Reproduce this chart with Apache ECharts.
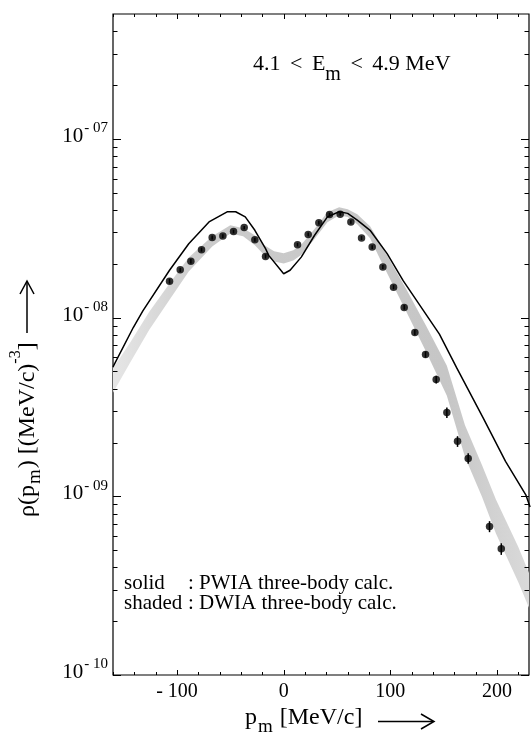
<!DOCTYPE html>
<html>
<head>
<meta charset="utf-8">
<script src="https://cdn.jsdelivr.net/npm/echarts@6/dist/echarts.min.js"></script>
<style>
  html, body { margin: 0; padding: 0; background: #fff; }
  #chart { width: 532px; height: 732px; }
</style>
</head>
<body>
<div id="chart"></div>
<script>
// measured momentum distribution (filled circles with error bars)
const pointX = [-107, -97, -87, -77, -67, -57, -47, -37, -27, -17,
  13, 23, 33, 43, 53, 63, 73, 83, 93, 103, 113, 123, 133, 143, 153, 163, 173, 193, 204];
const pointY = [1.60e-8, 1.85e-8, 2.07e-8, 2.40e-8, 2.81e-8, 2.86e-8, 3.03e-8, 3.19e-8, 2.73e-8, 2.20e-8,
  2.56e-8, 2.92e-8, 3.40e-8, 3.78e-8, 3.79e-8, 3.43e-8, 2.79e-8, 2.48e-8, 1.92e-8, 1.48e-8,
  1.14e-8, 8.26e-9, 6.22e-9, 4.50e-9, 2.94e-9, 2.03e-9, 1.63e-9, 6.78e-10, 5.08e-10];
const pointErr = [0.05e-8, 0.05e-8, 0.06e-8, 0.06e-8, 0.07e-8, 0.07e-8, 0.07e-8, 0.07e-8, 0.07e-8, 0.06e-8,
  0.06e-8, 0.07e-8, 0.08e-8, 0.08e-8, 0.08e-8, 0.08e-8, 0.07e-8, 0.06e-8, 0.05e-8, 0.04e-8,
  0.035e-8, 0.3e-9, 0.25e-9, 0.22e-9, 0.2e-9, 0.14e-9, 0.11e-9, 0.48e-10, 0.38e-10];

// solid : PWIA three-body calc.
const pwiaX = [-160, -141, -132, -107, -89, -70, -53, -45, -36, -27, -17, -14, 0, 6, 16.5, 29, 41, 52, 60, 69,
  81, 97, 112, 146, 162, 187, 208, 227, 231];
const pwiaY = [5.3e-9, 8.8e-9, 1.09e-8, 1.84e-8, 2.59e-8, 3.43e-8, 3.91e-8, 3.91e-8, 3.66e-8, 3.08e-8, 2.43e-8,
  2.23e-8, 1.76e-8, 1.84e-8, 2.18e-8, 2.89e-8, 3.66e-8, 3.91e-8, 3.83e-8, 3.51e-8,
  3.08e-8, 2.28e-8, 1.61e-8, 8.09e-9, 5.26e-9, 2.75e-9, 1.57e-9, 1.02e-9, 8.7e-10];

// shaded : DWIA three-body calc. (band edges)
const dwiaX = [-160, -144, -126, -107, -89, -67, -50, -38, -27, -18, -9, 0, 9, 16, 28, 41, 52, 60, 69, 81,
  90, 115, 134, 153, 170, 186, 199, 220, 231];
const dwiaHigh = [5.2e-9, 7.24e-9, 1.08e-8, 1.55e-8, 2.17e-8, 2.85e-8, 3.29e-8, 3.16e-8, 2.89e-8, 2.54e-8,
  2.35e-8, 2.29e-8, 2.38e-8, 2.54e-8, 3.08e-8, 3.89e-8, 4.15e-8, 4.04e-8, 3.79e-8, 3.24e-8,
  2.64e-8, 1.44e-8, 8.9e-9, 5.37e-9, 2.5e-9, 1.49e-9, 9.6e-10, 5.2e-10, 3.6e-10];
const dwiaLow = [3.8e-9, 5.59e-9, 8.56e-9, 1.26e-8, 1.81e-8, 2.5e-8, 2.96e-8, 2.85e-8, 2.54e-8, 2.23e-8,
  2.06e-8, 2.01e-8, 2.09e-8, 2.23e-8, 2.71e-8, 3.42e-8, 3.74e-8, 3.65e-8, 3.33e-8, 2.78e-8,
  2.15e-8, 1.08e-8, 6.36e-9, 3.65e-9, 1.66e-9, 9.9e-10, 6.2e-10, 3.3e-10, 2.3e-10];

// axes
const xTicks = [-160, -140, -120, -100, -80, -60, -40, -20, 0, 20, 40, 60, 80, 100, 120, 140, 160, 180, 200, 220];
const xLabelTicks = [-100, 0, 100, 200];
const yDecades = [1e-10, 1e-9, 1e-8, 1e-7];
const X_MIN = -160, X_MAX = 230, Y_MIN = 1e-10, Y_MAX = 5e-7;

const SERIF = '"Liberation Serif", "DejaVu Serif", serif';

const yTicks = [];
yDecades.forEach(function (d) {
  yTicks.push([X_MIN, d, 1]);
  for (let k = 2; k <= 9; k++) {
    const v = k * d;
    if (v < Y_MAX * 0.999) yTicks.push([X_MIN, v, 0]);
  }
});

const chart = echarts.init(document.getElementById('chart'));

function tickLine(x1, y1, x2, y2) {
  return { type: 'line', shape: { x1: x1, y1: y1, x2: x2, y2: y2 }, style: { stroke: '#000', lineWidth: 1 } };
}

const option = {
  backgroundColor: '#fff',
  animation: false,
  grid: {
    left: 113, top: 14, width: 421, height: 661,
    show: true, borderColor: '#000', borderWidth: 1.2, backgroundColor: 'transparent'
  },
  xAxis: {
    type: 'value', min: X_MIN, max: X_MAX, interval: 20,
    axisLine: { show: false }, axisTick: { show: false }, splitLine: { show: false },
    axisLabel: {
      margin: 7, color: '#000', fontFamily: SERIF, fontSize: 20,
      formatter: function (v) {
        if (xLabelTicks.indexOf(v) < 0) return '';
        return v < 0 ? '- ' + (-v) : String(v);
      }
    }
  },
  yAxis: {
    type: 'log', logBase: 10, min: Y_MIN, max: Y_MAX,
    axisLine: { show: false }, axisTick: { show: false }, splitLine: { show: false },
    axisLabel: {
      margin: 5, color: '#000', padding: [0, 0, 18, 0],
      formatter: function (v) {
        const e = Math.round(Math.log10(v));
        if (Math.abs(v / Math.pow(10, e) - 1) > 1e-6) return '';
        return '{b|10}{s|- ' + String(-e).padStart(2, '0') + '}';
      },
      rich: {
        b: { fontFamily: SERIF, fontSize: 21, lineHeight: 20, color: '#000', verticalAlign: 'top', padding: [6, 1, 0, 0] },
        s: { fontFamily: SERIF, fontSize: 15, lineHeight: 15, color: '#000', verticalAlign: 'top', padding: [1, 0, 0, 0] }
      }
    }
  },
  series: [
    {
      name: 'DWIA',
      type: 'custom',
      coordinateSystem: 'cartesian2d',
      clip: true,
      silent: true,
      z: 1,
      data: dwiaX.map(function (x, i) { return [x, dwiaLow[i], dwiaHigh[i]]; }),
      encode: { x: 0, y: [1, 2] },
      renderItem: function (params, api) {
        if (params.dataIndex !== 0) return null;
        const pts = [];
        for (let i = 0; i < dwiaX.length; i++) pts.push(api.coord([dwiaX[i], dwiaHigh[i]]));
        for (let i = dwiaX.length - 1; i >= 0; i--) pts.push(api.coord([dwiaX[i], dwiaLow[i]]));
        return {
          type: 'polygon', shape: { points: pts },
          style: {
            fill: new echarts.graphic.LinearGradient(0, 0, 1, 0, [
              { offset: 0, color: '#e6e6e6' },
              { offset: 0.22, color: '#cbcbcb' },
              { offset: 0.8, color: '#c6c6c6' },
              { offset: 1, color: '#dadada' }
            ]),
            stroke: null
          }
        };
      }
    },
    {
      name: 'PWIA',
      type: 'line',
      z: 3,
      symbol: 'none',
      lineStyle: { color: '#000', width: 1.5 },
      data: pwiaX.map(function (x, i) { return [x, pwiaY[i]]; })
    },
    {
      name: 'errors',
      type: 'custom',
      coordinateSystem: 'cartesian2d',
      silent: true,
      z: 4,
      data: pointX.map(function (x, i) { return [x, pointY[i], pointErr[i]]; }),
      encode: { x: 0, y: 1 },
      renderItem: function (params, api) {
        const x = api.value(0), y = api.value(1), e = api.value(2);
        const p1 = api.coord([x, y - e]);
        const p2 = api.coord([x, y + e]);
        return { type: 'line', shape: { x1: p1[0], y1: p1[1], x2: p2[0], y2: p2[1] }, style: { stroke: '#000', lineWidth: 1.5 } };
      }
    },
    {
      name: 'data',
      type: 'scatter',
      z: 5,
      symbol: 'circle',
      symbolSize: 7.5,
      itemStyle: { color: '#000' },
      data: pointX.map(function (x, i) { return [x, pointY[i]]; })
    },
    {
      name: 'xticks',
      type: 'custom',
      coordinateSystem: 'cartesian2d',
      silent: true,
      clip: false,
      z: 6,
      data: xTicks.map(function (v) { return [v, Y_MIN, xLabelTicks.indexOf(v) >= 0 ? 1 : 0]; }),
      encode: { x: 0, y: 1 },
      renderItem: function (params, api) {
        const cs = params.coordSys;
        const px = Math.round(api.coord([api.value(0), Y_MIN])[0]) + 0.5;
        const len = api.value(2) ? 5 : 3;
        const b = cs.y + cs.height;
        return { type: 'group', children: [tickLine(px, b, px, b - len), tickLine(px, cs.y, px, cs.y + len)] };
      }
    },
    {
      name: 'yticks',
      type: 'custom',
      coordinateSystem: 'cartesian2d',
      silent: true,
      clip: false,
      z: 6,
      data: yTicks,
      encode: { x: 0, y: 1 },
      renderItem: function (params, api) {
        const cs = params.coordSys;
        const py = Math.round(api.coord([X_MIN, api.value(1)])[1]) + 0.5;
        const len = api.value(2) ? 8 : 4.5;
        const r = cs.x + cs.width;
        return { type: 'group', children: [tickLine(cs.x, py, cs.x + len, py), tickLine(r - len, py, r, py)] };
      }
    }
  ],
  graphic: [
    {
      type: 'text', left: 253, top: 53, z: 10,
      style: {
        text: '{a|4.1 }{b|<}{a| E}{s|m}{a| }{b|<}{a| 4.9 MeV}',
        rich: {
          a: { fontFamily: SERIF, fontSize: 22, lineHeight: 22, fill: '#000', verticalAlign: 'top', padding: [0, 0, 10, 0] },
          b: { fontFamily: SERIF, fontSize: 22, lineHeight: 22, fill: '#000', verticalAlign: 'top', padding: [0, 4, 10, 4] },
          s: { fontFamily: SERIF, fontSize: 20, lineHeight: 20, fill: '#000', verticalAlign: 'top', padding: [12, 0, 0, 0] }
        }
      }
    },
    {
      type: 'text', x: 124, y: 583.5, z: 10,
      style: { text: 'solid', font: '21px ' + SERIF, fill: '#000', verticalAlign: 'middle' }
    },
    {
      type: 'text', x: 188, y: 583.5, z: 10,
      style: { text: ': PWIA three-body calc.', font: '21px ' + SERIF, fill: '#000', verticalAlign: 'middle' }
    },
    {
      type: 'text', x: 124, y: 603.5, z: 10,
      style: { text: 'shaded', font: '21px ' + SERIF, fill: '#000', verticalAlign: 'middle' }
    },
    {
      type: 'text', x: 188, y: 603.5, z: 10,
      style: { text: ': DWIA three-body calc.', font: '21px ' + SERIF, fill: '#000', verticalAlign: 'middle' }
    },
    {
      type: 'text', x: 245, y: 706, z: 10,
      style: {
        text: '{a|p}{s|m}{a| [MeV/c]}',
        rich: {
          a: { fontFamily: SERIF, fontSize: 24, lineHeight: 24, fill: '#000', verticalAlign: 'top', padding: [0, 0, 8, 0] },
          s: { fontFamily: SERIF, fontSize: 19, lineHeight: 20, fill: '#000', verticalAlign: 'top', padding: [12, 1, 0, 1] }
        }
      }
    },
    {
      type: 'group', z: 10,
      children: [
        { type: 'line', shape: { x1: 378, y1: 721.5, x2: 433, y2: 721.5 }, style: { stroke: '#000', lineWidth: 1.5 } },
        { type: 'polyline', shape: { points: [[421, 714], [434, 721.5], [421, 729]] }, style: { stroke: '#000', lineWidth: 1.5, fill: null } }
      ]
    },
    {
      type: 'text', x: 8, y: 517, rotation: Math.PI / 2, z: 10,
      style: {
        text: '{a|ρ(p}{s|m}{a|) [(MeV/c)}{u|-3}{a|]}',
        align: 'left',
        rich: {
          a: { fontFamily: SERIF, fontSize: 24, lineHeight: 24, fill: '#000', verticalAlign: 'top', padding: [8, 0, 6, 0] },
          s: { fontFamily: SERIF, fontSize: 19, lineHeight: 20, fill: '#000', verticalAlign: 'top', padding: [18, 1, 0, 1] },
          u: { fontFamily: SERIF, fontSize: 16, lineHeight: 16, fill: '#000', verticalAlign: 'top', padding: [0, 0, 22, 0] }
        }
      }
    },
    {
      type: 'group', z: 10,
      children: [
        { type: 'line', shape: { x1: 27, y1: 333, x2: 27, y2: 282 }, style: { stroke: '#000', lineWidth: 1.5 } },
        { type: 'polyline', shape: { points: [[20, 294], [27, 281], [34, 294]] }, style: { stroke: '#000', lineWidth: 1.5, fill: null } }
      ]
    }
  ]
};

chart.setOption(option);
</script>
</body>
</html>
